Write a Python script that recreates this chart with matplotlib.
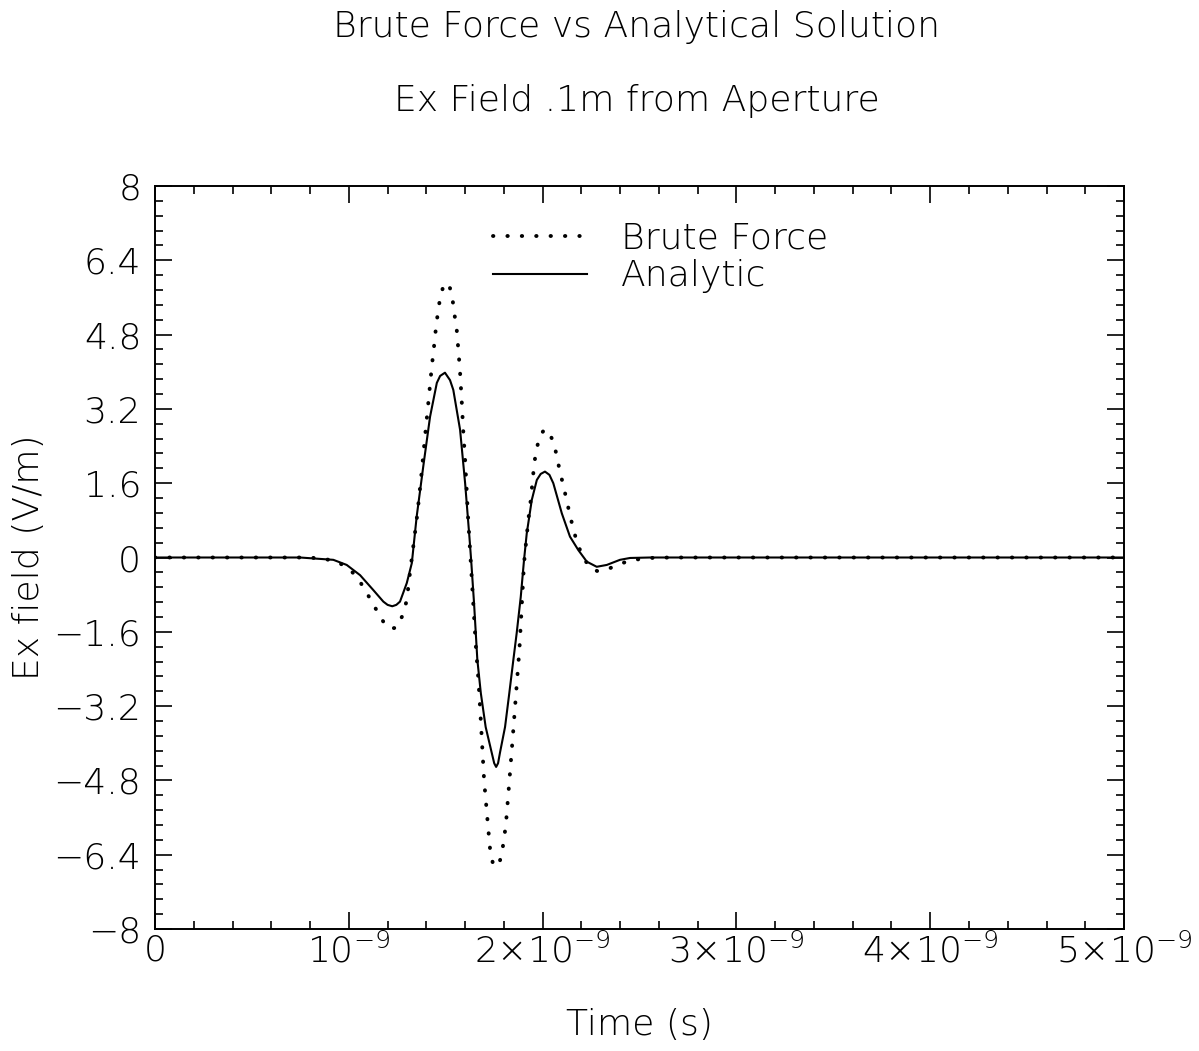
import numpy as np
import matplotlib.pyplot as plt
from matplotlib.ticker import MultipleLocator, FixedLocator, FixedFormatter

# Values (time in ns, field in V/m)
t_analytic = [0.0, 0.748, 0.920, 0.989, 1.058, 1.126, 1.178, 1.200, 1.224, 1.245,
              1.264, 1.299, 1.325, 1.350, 1.384, 1.419, 1.454, 1.471, 1.496, 1.522,
              1.539, 1.574, 1.600, 1.622, 1.631, 1.646, 1.663, 1.681, 1.706, 1.737,
              1.750, 1.760, 1.770, 1.780, 1.806, 1.828, 1.849, 1.866, 1.887, 1.904,
              1.918, 1.944, 1.970, 1.990, 2.012, 2.035, 2.055, 2.099, 2.141, 2.184,
              2.228, 2.279, 2.331, 2.399, 2.451, 2.554, 5.0]
ex_analytic = [0.0, 0.0, -0.05, -0.16, -0.38, -0.70, -0.95, -1.02, -1.05, -1.02,
               -0.95, -0.55, -0.12, 0.88, 1.96, 3.03, 3.76, 3.91, 3.98, 3.82,
               3.61, 2.75, 1.60, 0.45, -0.05, -0.98, -2.20, -2.92, -3.65, -4.20,
               -4.43, -4.51, -4.43, -4.20, -3.65, -2.92, -2.20, -1.63, -0.85, -0.05,
               0.52, 1.24, 1.67, 1.80, 1.85, 1.78, 1.60, 0.95, 0.45, 0.16,
               -0.09, -0.20, -0.16, -0.05, -0.01, 0.0, 0.0]

t_brute = [0.0, 0.800, 0.920, 0.989, 1.041, 1.084, 1.118, 1.152, 1.192, 1.218,
           1.247, 1.278, 1.299, 1.316, 1.353, 1.376, 1.390, 1.405, 1.419, 1.429,
           1.441, 1.450, 1.460, 1.471, 1.486, 1.505, 1.522, 1.536, 1.546, 1.557,
           1.563, 1.569, 1.574, 1.583, 1.591, 1.600, 1.608, 1.615, 1.642, 1.656,
           1.668, 1.677, 1.698, 1.717, 1.730, 1.744, 1.761, 1.775, 1.790, 1.810,
           1.828, 1.846, 1.863, 1.880, 1.892, 1.904, 1.926, 1.939, 1.947, 1.957,
           1.970, 1.987, 2.010, 2.033, 2.059, 2.076, 2.090, 2.109, 2.124, 2.141,
           2.158, 2.179, 2.208, 2.248, 2.281, 2.318, 2.388, 2.451, 2.554, 2.657, 5.0]
ex_brute = [0.0, 0.0, -0.06, -0.20, -0.41, -0.70, -0.95, -1.20, -1.48, -1.53,
            -1.51, -1.24, -0.92, -0.31, 0.92, 1.85, 2.47, 3.11, 3.72, 4.15,
            4.60, 4.97, 5.29, 5.59, 5.82, 5.92, 5.80, 5.53, 5.21, 4.89,
            4.58, 4.26, 3.98, 3.33, 2.68, 2.10, 1.45, 0.88, -0.99, -1.95,
            -2.60, -3.22, -4.80, -5.73, -6.34, -6.60, -6.66, -6.60, -6.37, -5.77,
            -4.83, -3.86, -2.92, -1.99, -1.06, -0.12, 0.81, 1.25, 1.60, 2.04,
            2.36, 2.63, 2.76, 2.70, 2.45, 2.12, 1.83, 1.52, 1.22, 0.92,
            0.61, 0.31, 0.0, -0.23, -0.29, -0.28, -0.16, -0.06, -0.01, 0.0, 0.0]

y_ticks = [-8, -6.4, -4.8, -3.2, -1.6, 0, 1.6, 3.2, 4.8, 6.4, 8]
y_labels = ['\u22128', '\u22126.4', '\u22124.8', '\u22123.2', '\u22121.6', '0',
            '1.6', '3.2', '4.8', '6.4', '8']
x_ticks = [0, 1e-9, 2e-9, 3e-9, 4e-9, 5e-9]
x_labels = ['0', r'$10^{-9}$', r'$2{\times}10^{-9}$', r'$3{\times}10^{-9}$',
            r'$4{\times}10^{-9}$', r'$5{\times}10^{-9}$']

plt.rcParams['font.family'] = ['DejaVu Sans']
plt.rcParams['font.weight'] = 'light'
plt.rcParams['axes.labelweight'] = 'light'
plt.rcParams['mathtext.fontset'] = 'custom'
plt.rcParams['mathtext.rm'] = 'DejaVu Sans:light'
plt.rcParams['mathtext.it'] = 'DejaVu Sans:light'
fs = 26

fig = plt.figure(figsize=(11.99, 10.51), dpi=100)
ax = fig.add_axes([0.1293, 0.1161, 0.8082, 0.7069])

ax.plot(np.array(t_brute) * 1e-9, ex_brute, color='black', linewidth=2.8,
        linestyle=(0, (0.1, 3.6)), dash_capstyle='round', label='Brute Force')
ax.plot(np.array(t_analytic) * 1e-9, ex_analytic, color='black', linewidth=1.5,
        solid_joinstyle='round', label='Analytic')

ax.set_xlim(0, 5e-9)
ax.set_ylim(-8, 8)
ax.xaxis.set_major_locator(FixedLocator(x_ticks))
ax.xaxis.set_major_formatter(FixedFormatter(x_labels))
ax.xaxis.set_minor_locator(MultipleLocator(0.2e-9))
ax.yaxis.set_major_locator(FixedLocator(y_ticks))
ax.yaxis.set_major_formatter(FixedFormatter(y_labels))
ax.yaxis.set_minor_locator(MultipleLocator(0.32))
ax.tick_params(which='both', direction='in', top=True, right=True,
               labelsize=fs, width=1.2, color='black')
ax.tick_params(which='major', length=12)
ax.tick_params(axis='x', which='major', pad=3)
ax.tick_params(axis='y', which='major', pad=10)
ax.tick_params(which='minor', length=6)
for s in ax.spines.values():
    s.set_linewidth(1.4)

ax.set_xlabel('Time (s)', fontsize=fs, fontweight='light', labelpad=28)
ax.set_ylabel('Ex field (V/m)', fontsize=fs, fontweight='light', labelpad=5)

fig.text(0.531, 0.974, 'Brute Force vs Analytical Solution', fontsize=fs,
         ha='center', va='center')
fig.text(0.531, 0.904, 'Ex Field .1m from Aperture', fontsize=fs,
         ha='center', va='center')

ax.legend(loc='upper left', bbox_to_anchor=(0.349, 0.952), frameon=False,
          fontsize=fs, handlelength=2.6, handletextpad=0.95,
          labelspacing=0.1, borderpad=0, borderaxespad=0)

fig.savefig('out.png', dpi=100)
